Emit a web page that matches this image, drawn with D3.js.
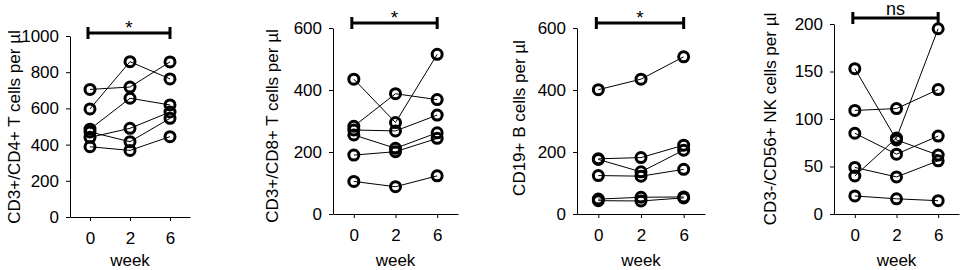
<!DOCTYPE html>
<html lang="en">
<head>
    <meta charset="UTF-8">
    <title>Lymphocyte counts per week</title>
    <style>
        body { margin: 0; background: #fff; }
        svg { display: block; font-family: Arial, "Liberation Sans", sans-serif; }
    </style>
</head>
<body>
    <script src="https://cdnjs.cloudflare.com/ajax/libs/d3/7.8.2/d3.min.js"></script>
    <script>

        // weeks on the x axis
        const weeks = ["0", "2", "6"];

        // one row per subject : values at week 0, 2, 6
        const cd4Counts = [
            [597, 858, 763],
            [705, 718, 857],
            [485, 656, 619],
            [440, 490, 580],
            [470, 416, 545],
            [388, 368, 444]
        ];
        const cd8Counts = [
            [435, 295, 515],
            [283, 388, 369],
            [271, 268, 319],
            [255, 212, 262],
            [190, 201, 244],
            [105, 88, 123]
        ];
        const bCounts = [
            [401, 435, 507],
            [178, 182, 222],
            [176, 136, 206],
            [124, 122, 144],
            [48, 54, 55],
            [43, 42, 52]
        ];
        const nkCounts = [
            [153, 78, 62],
            [109, 111, 131],
            [85, 63, 82],
            [40, 80, 195],
            [49, 39, 56],
            [19, 16, 14]
        ];

        const yTicks1 = [0, 200, 400, 600, 800, 1000];
        const yTicks2 = [0, 200, 400, 600];
        const yTicks3 = [0, 200, 400, 600];
        const yTicks4 = [0, 50, 100, 150, 200];

        const yTitles = [
            "CD3+/CD4+ T cells per µl",
            "CD3+/CD8+ T cells per µl",
            "CD19+ B cells per µl",
            "CD3-/CD56+ NK cells per µl"
        ];
        const sigLabels = ["*", "*", "*", "ns"];

        const w = 963;
        const h = 270;
        const police = "Arial, 'Liberation Sans', sans-serif";

        const svg = d3.select("body")
            .append("svg")
            .attr("width", w)
            .attr("height", h)

        // placement of each panel
        const panels = [
            {data: cd4Counts, ticks: yTicks1, left: 70,  right: 190, bottom: 217, top: 36, titleX: 20,  titleY: 127, barY: 33},
            {data: cd8Counts, ticks: yTicks2, left: 333, right: 458, bottom: 214, top: 28, titleX: 278, titleY: 126, barY: 23},
            {data: bCounts,   ticks: yTicks3, left: 577, right: 705, bottom: 214, top: 28, titleX: 525, titleY: 118, barY: 23},
            {data: nkCounts,  ticks: yTicks4, left: 834, right: 959, bottom: 214, top: 24, titleX: 776, titleY: 119, barY: 18}
        ];

        panels.forEach((p, k) => {
            const g = svg.append("g");

            const x = d3.scalePoint()
                .domain(weeks)
                .range([p.left, p.right])
                .padding(0.5)

            const y = d3.scaleLinear()
                .domain([0, d3.max(p.ticks)])
                .range([p.bottom, p.top])

            g.append("g")
                .attr("transform", `translate(${p.left},0)`)
                .call(d3.axisLeft(y).tickValues(p.ticks).tickFormat(d3.format("d"))
                    .tickSize(4).tickSizeOuter(0).tickPadding(7))
            g.append("g")
                .attr("transform", `translate(0,${p.bottom})`)
                .call(d3.axisBottom(x).tickSize(4).tickSizeOuter(0).tickPadding(11))

            g.selectAll(".tick text")
                .style("font-size", "17px")
                .style("font-family", police)
                .attr("fill", "#000")
            g.selectAll(".domain, .tick line")
                .attr("stroke", "#000")

            // x title
            g.append("text")
                .attr("x", x("2"))
                .attr("y", 266)
                .attr("text-anchor", "middle")
                .style("font-size", "17px")
                .text("week")

            // y title
            g.append("text")
                .attr("transform", `translate(${p.titleX},${p.titleY}) rotate(-90)`)
                .attr("text-anchor", "middle")
                .style("font-size", "17px")
                .text(yTitles[k])

            // significance bar
            const x1 = x("0") - 2;
            const x2 = x("6");
            g.append("line")
                .attr("x1", x1).attr("x2", x2)
                .attr("y1", p.barY).attr("y2", p.barY)
                .attr("stroke", "#000").attr("stroke-width", 3)
            g.selectAll(".cap")
                .data([x1, x2])
                .enter()
                .append("line")
                    .attr("x1", d => d).attr("x2", d => d)
                    .attr("y1", p.barY - 6).attr("y2", p.barY + 6)
                    .attr("stroke", "#000").attr("stroke-width", 3)
            g.append("text")
                .attr("x", (x1 + x2) / 2)
                .attr("y", sigLabels[k] === "ns" ? p.barY - 3 : p.barY + 1)
                .attr("text-anchor", "middle")
                .style("font-size", sigLabels[k] === "ns" ? "18px" : "19px")
                .text(sigLabels[k])

            // subject lines
            const ligne = d3.line()
                .x((d, i) => x(weeks[i]))
                .y(d => y(d))

            g.selectAll(".sujet")
                .data(p.data)
                .enter()
                .append("path")
                    .attr("d", ligne)
                    .attr("fill", "none")
                    .attr("stroke", "#000")
                    .attr("stroke-width", 1)

            const points = p.data.flatMap(row => row.map((v, i) => ({week: weeks[i], v: v})));
            g.selectAll("circle")
                .data(points)
                .enter()
                .append("circle")
                    .attr("cx", d => x(d.week))
                    .attr("cy", d => y(d.v))
                    .attr("r", 5)
                    .attr("fill", "none")
                    .attr("stroke", "#000")
                    .attr("stroke-width", 3)
        });

    </script>
</body>
</html>
